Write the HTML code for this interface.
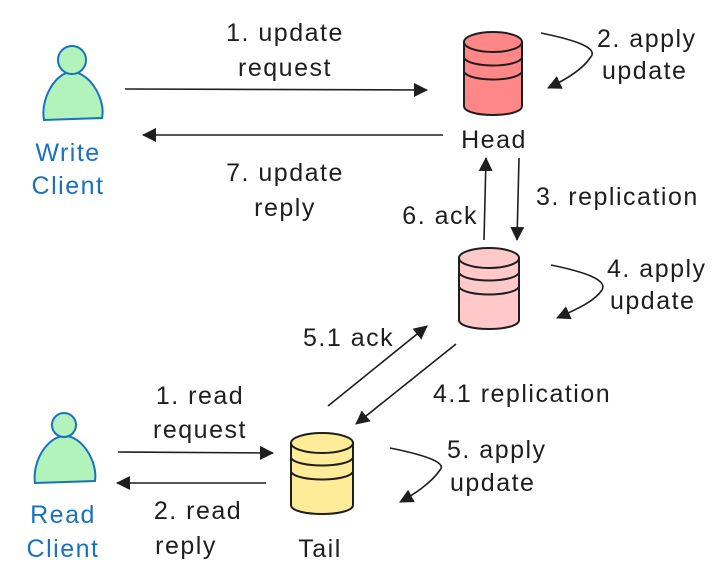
<!DOCTYPE html>
<html><head><meta charset="utf-8"><style>
html,body{margin:0;padding:0;background:#fff;width:720px;height:583px;overflow:hidden}
svg{display:block}
text{font-family:"Liberation Sans",sans-serif;font-size:25px;letter-spacing:1.5px;fill:#1e1e1e}
.b{fill:#1971c2}
</style></head><body>
<svg width="720" height="583" viewBox="0 0 720 583">
<defs>
<marker id="m" markerWidth="14" markerHeight="14" refX="13" refY="7" orient="auto" markerUnits="userSpaceOnUse" viewBox="0 0 14 14">
<path d="M0,0 L14,7 L0,14 z" fill="#1e1e1e"/></marker>
</defs>
<g stroke="#1971c2" stroke-width="2" fill="#b2f2bb">
<path d="M44,120 C40,100 55,72 72,72 C90,72 106,100 102,118 Z"/>
<circle cx="72" cy="60" r="14"/>
<path d="M35,483 C32,462 47,436 65,436 C82,436 98,462 95,481 Z"/>
<circle cx="64" cy="425" r="12"/>
</g>
<text class="b" x="68" y="161" text-anchor="middle">Write</text>
<text class="b" x="68" y="194" text-anchor="middle">Client</text>
<text class="b" x="63" y="523" text-anchor="middle">Read</text>
<text class="b" x="63" y="557" text-anchor="middle">Client</text>

<g stroke="#1e1e1e" stroke-width="1.6" fill="none">
<line x1="125" y1="89" x2="427" y2="90" marker-end="url(#m)"/>
<line x1="443" y1="135" x2="143" y2="135" marker-end="url(#m)"/>
<line x1="519" y1="158" x2="517" y2="240" marker-end="url(#m)"/>
<line x1="484" y1="240" x2="486" y2="158" marker-end="url(#m)"/>
<line x1="328" y1="406" x2="427" y2="326" marker-end="url(#m)"/>
<line x1="456" y1="344" x2="356" y2="424" marker-end="url(#m)"/>
<line x1="118" y1="452" x2="273" y2="453" marker-end="url(#m)"/>
<line x1="266" y1="483" x2="117" y2="483" marker-end="url(#m)"/>
<path d="M541,33 C575,40 600,48 590,58 C582,70 565,80 548,88" marker-end="url(#m)"/>
<path d="M551,265 C585,272 608,280 602,290 C594,302 575,310 557,318" marker-end="url(#m)"/>
<path d="M390,448 C420,454 448,462 440,470 C432,482 415,494 400,502" marker-end="url(#m)"/>
</g>

<g stroke="#1e1e1e" stroke-width="2">
<path d="M464,42 L464,106 C464,118 522,118 522,106 L522,42 Z" fill="#ff8787"/>
<ellipse cx="493" cy="42" rx="29" ry="10" fill="#ff8787"/>
<path d="M464,58 C470,68 516,68 522,58 M464,72 C470,82 516,82 522,72" fill="none"/>
<path d="M459,258 L459,320 C459,332 519,332 519,320 L519,258 Z" fill="#ffc9c9"/>
<ellipse cx="489" cy="258" rx="30" ry="10" fill="#ffc9c9"/>
<path d="M459,273 C465,283 513,283 519,273 M459,287 C465,297 513,297 519,287" fill="none"/>
<path d="M291,443 L291,505 C291,517 353,517 353,505 L353,443 Z" fill="#ffec99"/>
<ellipse cx="322" cy="443" rx="31" ry="10" fill="#ffec99"/>
<path d="M291,458 C297,468 347,468 353,458 M291,472 C297,482 347,482 353,472" fill="none"/>
</g>

<text x="285" y="41" text-anchor="middle">1. update</text>
<text x="285" y="76" text-anchor="middle">request</text>
<text x="285" y="181" text-anchor="middle">7. update</text>
<text x="285" y="216" text-anchor="middle">reply</text>
<text x="494" y="148" text-anchor="middle">Head</text>
<text x="597" y="47">2. apply</text>
<text x="602" y="79">update</text>
<text x="536" y="205">3. replication</text>
<text x="478" y="224" text-anchor="end">6. ack</text>
<text x="607" y="277">4. apply</text>
<text x="610" y="309">update</text>
<text x="303" y="346">5.1 ack</text>
<text x="433" y="402">4.1 replication</text>
<text x="200" y="404" text-anchor="middle">1. read</text>
<text x="200" y="438" text-anchor="middle">request</text>
<text x="198" y="519" text-anchor="middle">2. read</text>
<text x="186" y="554" text-anchor="middle">reply</text>
<text x="320" y="557" text-anchor="middle">Tail</text>
<text x="447" y="458">5. apply</text>
<text x="450" y="491">update</text>
</svg>
</body></html>
